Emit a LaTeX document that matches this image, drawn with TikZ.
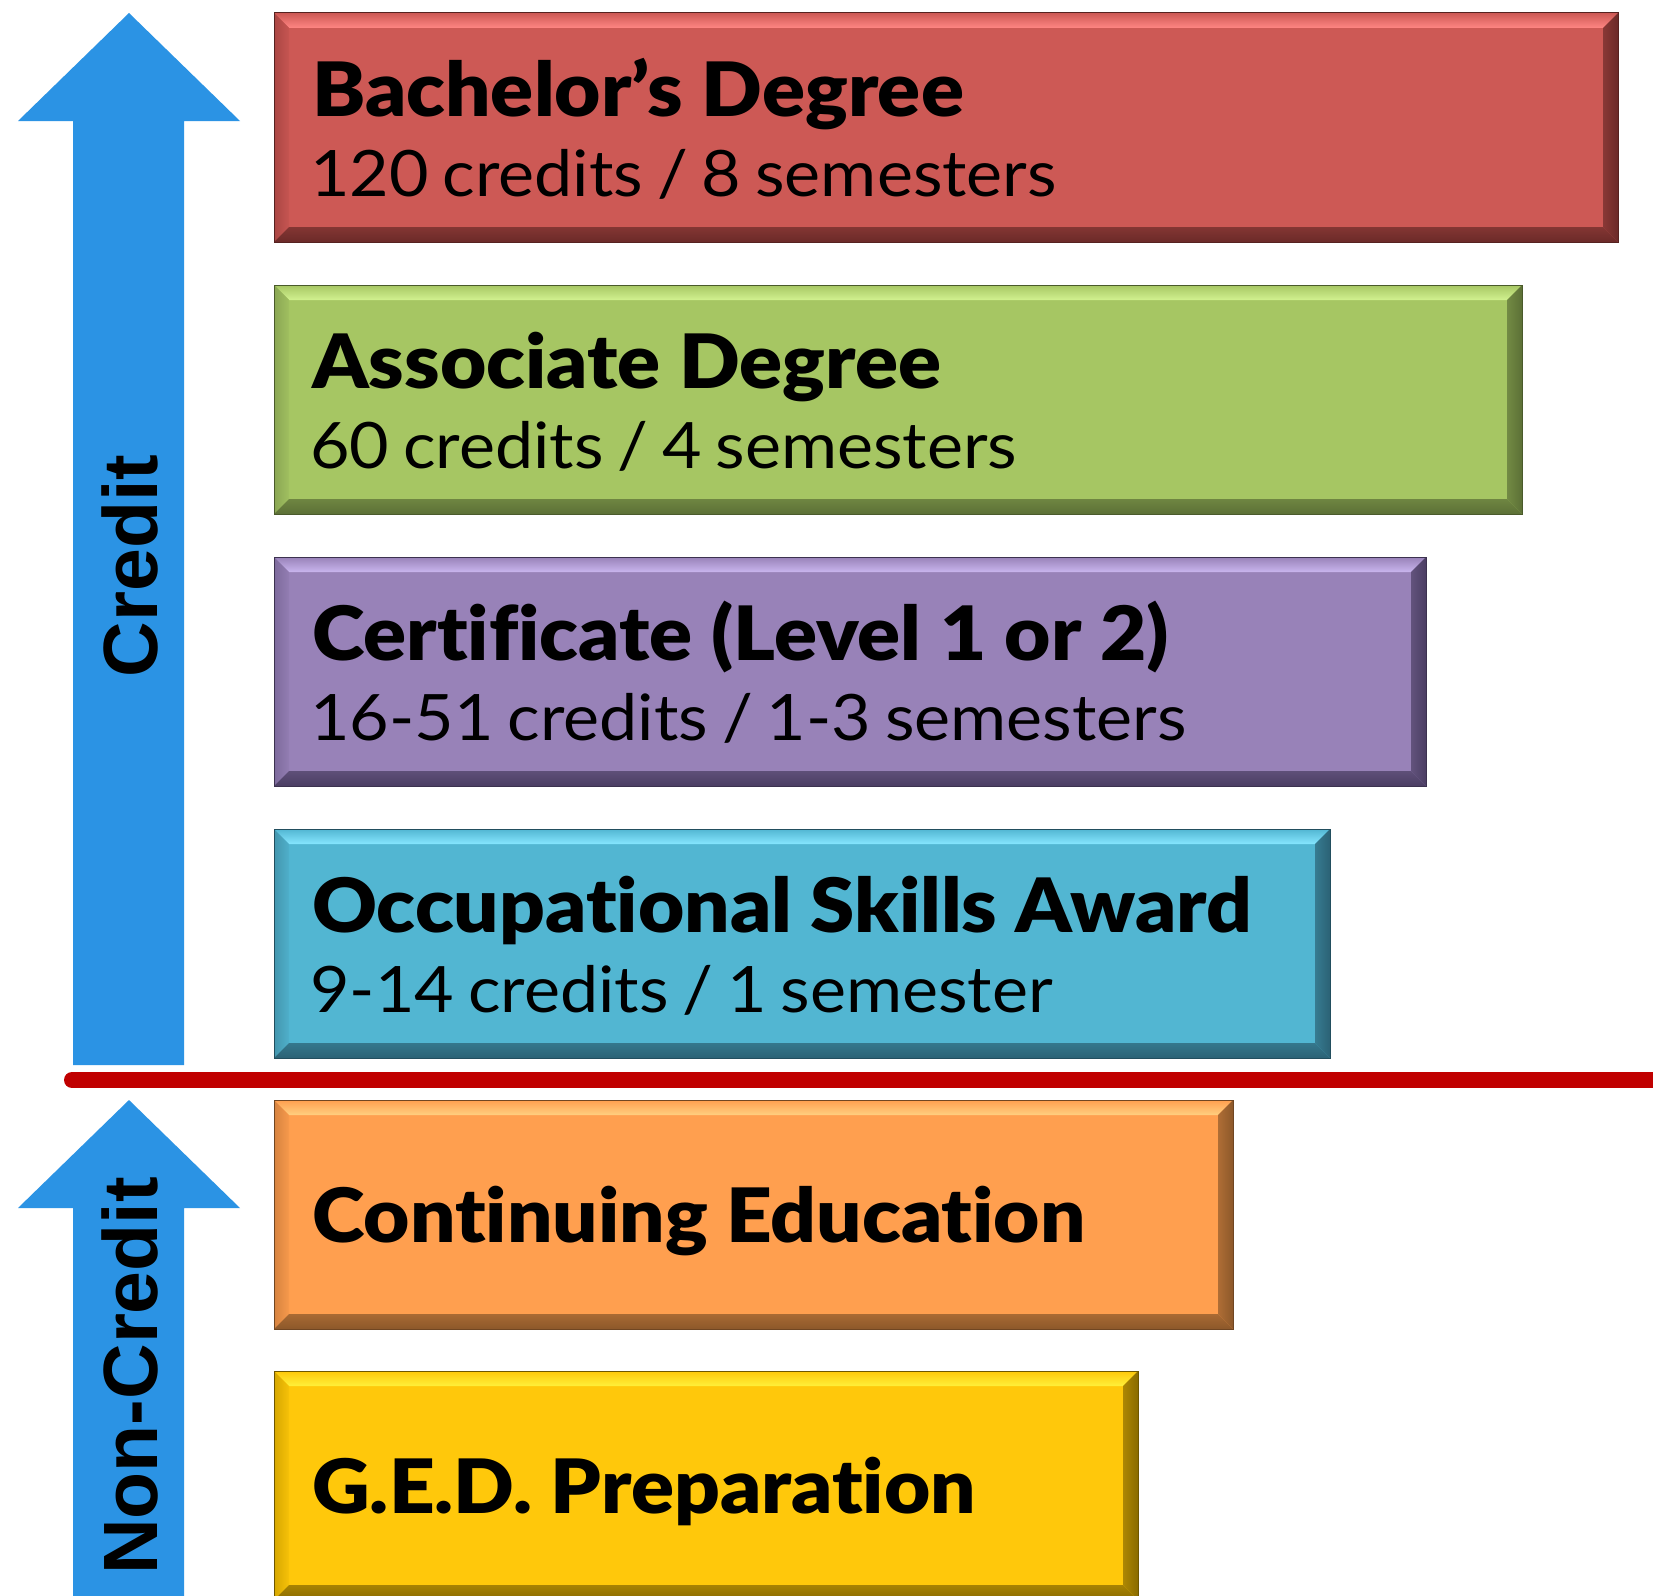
\documentclass[tikz,border=0pt]{standalone}
\usepackage{fontspec}
\setmainfont{Lato}[Ligatures=NoCommon]
\newfontfamily\titlefont{Lato Black}[Ligatures=NoCommon, FakeStretch=1.065]
\newfontfamily\subfont{Lato}[Ligatures=NoCommon, FakeStretch=1.065, WordSpace=0.8]
\newfontfamily\labfont{Liberation Sans}
\definecolor{arrowblue}{HTML}{2B93E4}
\definecolor{divred}{HTML}{C00000}
% red
\definecolor{rbase}{HTML}{CD5955}\definecolor{rlight}{HTML}{FF8683}\definecolor{rleft}{HTML}{AA4643}\definecolor{rdark}{HTML}{6B2A28}
% green
\definecolor{gbase}{HTML}{A6C663}\definecolor{glight}{HTML}{D2F290}\definecolor{gleft}{HTML}{8AA653}\definecolor{gdark}{HTML}{5C7036}
% purple
\definecolor{pbase}{HTML}{9882B8}\definecolor{plight}{HTML}{C9B5EE}\definecolor{pleft}{HTML}{7D6A9C}\definecolor{pdark}{HTML}{4B3E63}
% blue
\definecolor{bbase}{HTML}{52B6D2}\definecolor{blight}{HTML}{86E6FF}\definecolor{bleft}{HTML}{4396AE}\definecolor{bdark}{HTML}{2B6275}
% orange
\definecolor{obase}{HTML}{FF9F4F}\definecolor{olight}{HTML}{FFCF80}\definecolor{oleft}{HTML}{D6833F}\definecolor{odark}{HTML}{8C582A}
% yellow
\definecolor{ybase}{HTML}{FFC80B}\definecolor{ylight}{HTML}{FFF03A}\definecolor{yleft}{HTML}{D6A700}\definecolor{ydark}{HTML}{8A6B00}
\tikzset{
  tierbox/.style={rectangle, inner sep=0pt, outer sep=0pt, anchor=north west},
  tiertitle/.style={anchor=base west, inner sep=0pt, font=\titlefont\fontsize{75}{90}\selectfont},
  tiersub/.style={anchor=base west, inner sep=0pt, font=\subfont\fontsize{64}{76}\selectfont},
  vlabel/.style={rotate=90, anchor=base, inner sep=0pt, font=\labfont\bfseries\fontsize{77}{90}\selectfont},
  bigarrow/.style={fill=arrowblue},
  divider/.style={draw=divred, line width=16pt, line cap=round}
}
% #1 name, #2 colour prefix, #3 top, #4 right
\newcommand\tier[4]{%
  \pgfmathsetmacro\tT{#3}\pgfmathsetmacro\tB{#3+229}\pgfmathsetmacro\tR{#4}%
  \pgfmathsetmacro\tW{#4-274}\pgfmathsetmacro\tTi{#3+15}\pgfmathsetmacro\tBi{#3+214}%
  \pgfmathsetmacro\tRi{#4-15}%
  \node[tierbox, fill=#2base, minimum width=\tW pt, minimum height=229pt] (#1) at (274,\tT) {};
  \shade[top color=#2base, bottom color=#2light] (274,\tT) -- (\tR,\tT) -- (\tRi,\tTi) -- (289,\tTi) -- cycle;
  \shade[left color=#2left, right color=#2base!80!#2left] (274,\tT) -- (289,\tTi) -- (289,\tBi) -- (274,\tB) -- cycle;
  \shade[left color=#2dark!70!#2base, right color=#2dark] (\tR,\tT) -- (\tR,\tB) -- (\tRi,\tBi) -- (\tRi,\tTi) -- cycle;
  \shade[top color=#2dark!75!#2base, bottom color=#2dark] (274,\tB) -- (\tR,\tB) -- (\tRi,\tBi) -- (289,\tBi) -- cycle;
  \draw[#2dark!80!black, line width=1pt] (274,\tT) rectangle (\tR,\tB);
}
\begin{document}
\begin{tikzpicture}[x=1pt,y=-1pt]
\useasboundingbox (0,0) rectangle (1653,1595);
\fill[white] (0,0) rectangle (1653,1595);

% arrows
\fill[bigarrow] (129,13) -- (240,121) -- (184,121) -- (184,1065) -- (73,1065) -- (73,121) -- (18,121) -- cycle;
\fill[bigarrow] (129,1100) -- (240,1208) -- (184,1208) -- (184,1610) -- (73,1610) -- (73,1208) -- (18,1208) -- cycle;
\node[vlabel] (credit) at (157,566) {Credit};
\node[vlabel] (noncredit) at (157,1376) {Non-Credit};

% divider
\coordinate (divL) at (72,1080);
\coordinate (divR) at (1680,1080);
\draw[divider] (divL) -- (divR);

% tiers
\tier{bach}{r}{13}{1618}
\tier{assoc}{g}{285}{1522}
\tier{cert}{p}{557}{1426}
\tier{occ}{b}{829}{1330}
\tier{cont}{o}{1100}{1233}
\tier{ged}{y}{1371}{1138}

\node[tiertitle] (bach-t) at (312,116) {Bachelor’s Degree};
\node[tiersub] (bach-s) at (310,196) {120 credits / 8 semesters};
\node[tiertitle] (assoc-t) at (312,388) {Associate Degree};
\node[tiersub] (assoc-s) at (310,468) {60 credits / 4 semesters};
\node[tiertitle] (cert-t) at (312,660) {Certificate (Level 1 or 2)};
\node[tiersub] (cert-s) at (310,740) {16-51 credits / 1-3 semesters};
\node[tiertitle] (occ-t) at (312,932) {Occupational Skills Award};
\node[tiersub] (occ-s) at (310,1012) {9-14 credits / 1 semester};
\node[tiertitle] (cont-t) at (312,1242) {Continuing Education};
\node[tiertitle] (ged-t) at (312,1513) {G.E.D. Preparation};
\end{tikzpicture}
\end{document}
